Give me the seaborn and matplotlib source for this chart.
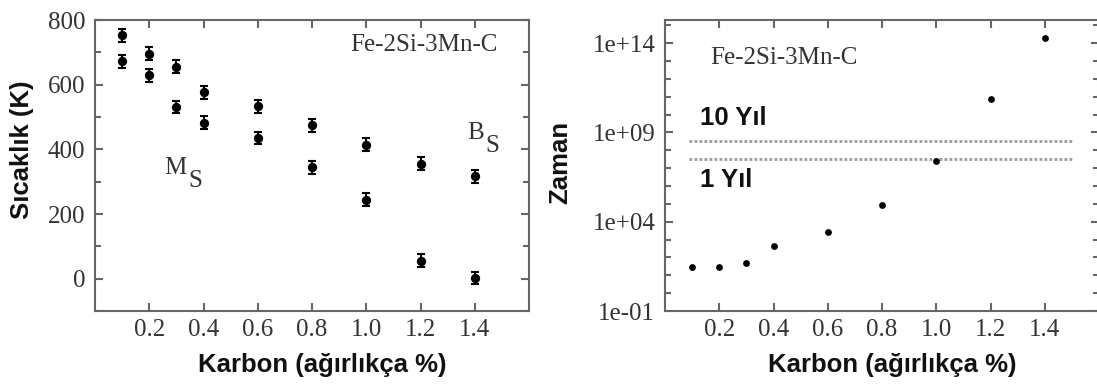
import matplotlib
matplotlib.use("Agg")
import matplotlib.pyplot as plt
import seaborn as sns
import numpy as np
import pandas as pd
from matplotlib.ticker import FixedLocator, MultipleLocator, NullFormatter

# carbon content (wt %)
carbon = [0.1, 0.2, 0.3, 0.4, 0.6, 0.8, 1.0, 1.2, 1.4]

# left panel: start temperatures (K)
bs_temp = [753, 695, 655, 576, 533, 474, 414, 356, 316]
ms_temp = [672, 629, 531, 482, 435, 345, 244, 56, 2]
temp_err = [20, 20, 20, 20, 20, 20, 20, 20, 20]

# right panel: time (log10 seconds)
log_time = [1.46, 1.46, 1.70, 2.63, 3.44, 4.96, 7.38, 10.88, 14.31]
log_year_lines = [8.5, 7.5]
year_labels = ["10 Yıl", "1 Yıl"]
year_label_pos = [9.81, 6.34]

sns.set_style("ticks")
plt.rcParams["font.family"] = ["Liberation Serif", "DejaVu Serif"]
plt.rcParams["xtick.direction"] = "in"
plt.rcParams["ytick.direction"] = "in"

serif_size = 18
label_font = dict(family=["Liberation Sans", "DejaVu Sans"], fontweight="bold",
                  fontsize=18.5, color="#111111")
spine_col = "#666666"
tick_col = "#333333"

fig = plt.figure(figsize=(10.97, 3.85), dpi=100)
ax1 = fig.add_axes([95 / 1097, 1 - 311 / 385, 434 / 1097, 291 / 385])
ax2 = fig.add_axes([665 / 1097, 1 - 311 / 385, 434 / 1097, 291 / 385])

# ---- left panel
df_t = pd.DataFrame({"carbon": carbon * 2, "temp": bs_temp + ms_temp})
ax1.errorbar(carbon + carbon, bs_temp + ms_temp, yerr=temp_err + temp_err,
             fmt="none", ecolor="black", elinewidth=1.5, capsize=3, capthick=1.5)
sns.scatterplot(data=df_t, x="carbon", y="temp", ax=ax1, color="black",
                s=45, edgecolor="black", linewidth=0, zorder=3)
ax1.set_xlim(0, 1.6)
ax1.set_ylim(-100, 800)
ax1.xaxis.set_major_locator(FixedLocator([0.2, 0.4, 0.6, 0.8, 1.0, 1.2, 1.4]))
ax1.yaxis.set_major_locator(MultipleLocator(200))
ax1.yaxis.set_minor_locator(MultipleLocator(100))
ax1.set_xticklabels(["0.2", "0.4", "0.6", "0.8", "1.0", "1.2", "1.4"])
ax1.text(0.94, 723, "Fe-2Si-3Mn-C", fontsize=serif_size, color=tick_col, va="center")
ax1.text(0.255, 343, "M", fontsize=serif_size, color=tick_col, va="center")
ax1.text(0.345, 302, "S", fontsize=serif_size, color=tick_col, va="center")
ax1.text(1.373, 450, "B", fontsize=serif_size, color=tick_col, va="center")
ax1.text(1.44, 410, "S", fontsize=serif_size, color=tick_col, va="center")
ax1.set_ylabel("Sıcaklık (K)", va="center", **label_font)
ax1.yaxis.set_label_coords(-0.168, 0.553)

# ---- right panel
df_z = pd.DataFrame({"carbon": carbon, "time": [10 ** v for v in log_time]})
sns.scatterplot(data=df_z, x="carbon", y="time", ax=ax2, color="black",
                s=24, linewidth=0, zorder=3)
ax2.set_yscale("log")
ax2.set_xlim(0, 1.6)
ax2.set_ylim(1e-1, 10 ** 15.3)
for ly, lab, lp in zip(log_year_lines, year_labels, year_label_pos):
    ax2.hlines(10 ** ly, 0.09, 1.5, colors="#9a9a9a", linewidth=2,
               linestyles=(0, (1, 0.8)))
    ax2.text(0.13, 10 ** lp, lab, va="center", **label_font)
ax2.xaxis.set_major_locator(FixedLocator([0.2, 0.4, 0.6, 0.8, 1.0, 1.2, 1.4]))
ax2.set_xticklabels(["0.2", "0.4", "0.6", "0.8", "1.0", "1.2", "1.4"])
ax2.yaxis.set_major_locator(FixedLocator([1e-1, 1e4, 1e9, 1e14]))
ax2.set_yticklabels(["1e-01", "1e+04", "1e+09", "1e+14"])
ax2.yaxis.set_minor_locator(FixedLocator([10.0 ** k for k in range(-1, 16)]))
ax2.yaxis.set_minor_formatter(NullFormatter())
ax2.text(0.166, 10 ** 13.15, "Fe-2Si-3Mn-C", fontsize=serif_size, color=tick_col, va="center")
ax2.set_ylabel("Zaman", va="center", **label_font)
ax2.yaxis.set_label_coords(-0.242, 0.512)

for ax in (ax1, ax2):
    ax.set_xlabel("Karbon (ağırlıkça %)", va="center", **label_font)
    ax.xaxis.set_label_coords(0.523, -0.186)
    for sp in ax.spines.values():
        sp.set_visible(True)
        sp.set_color(spine_col)
        sp.set_linewidth(1.5)
    ax.tick_params(which="both", top=True, right=True, color=spine_col,
                   labelcolor=tick_col, labelsize=serif_size)
    ax.tick_params(which="major", length=6, width=1.5)
    ax.tick_params(which="minor", length=4, width=1.5)
    ax.tick_params(axis="y", pad=7)
    ax.tick_params(axis="x", pad=6)

fig.savefig("out.png", dpi=100)
